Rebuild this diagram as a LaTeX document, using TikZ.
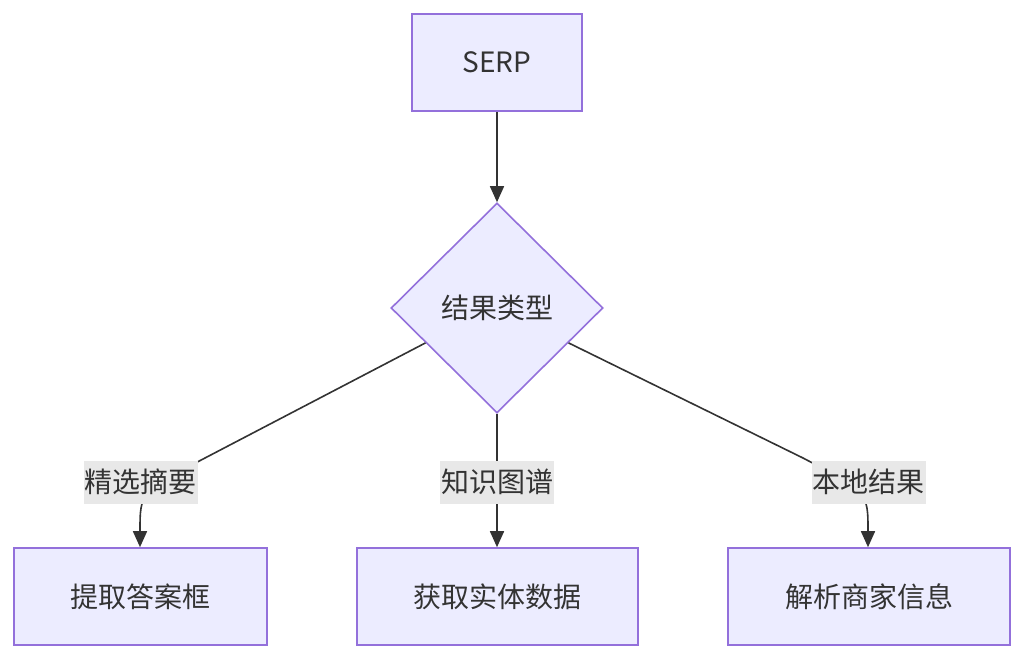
\documentclass[tikz,border=0pt]{standalone}
\usepackage{fontspec}
\setmainfont{Noto Sans CJK SC}
\usetikzlibrary{shapes.geometric,arrows.meta,calc}
\definecolor{nodefill}{HTML}{ECECFF}
\definecolor{nodeline}{HTML}{9370DB}
\definecolor{txt}{HTML}{333333}
\definecolor{edgebg}{HTML}{E8E8E8}
\begin{document}
\begin{tikzpicture}[x=1pt,y=-1pt,
  every node/.style={font=\fontsize{28}{34}\selectfont, text=txt},
  box/.style={draw=nodeline, fill=nodefill, line width=1.6pt, minimum height=97pt, inner sep=0pt},
  decision/.style={draw=nodeline, fill=nodefill, line width=1.6pt, shape=diamond, minimum width=212pt, minimum height=210pt, inner sep=0pt},
  elabel/.style={fill=edgebg, inner xsep=1pt, inner ysep=0pt, minimum height=43pt},
  conn/.style={draw=txt, line width=1.6pt, -{Triangle[length=16pt,width=14pt]}}]
\useasboundingbox (0,0) rectangle (1024,660);
\node[box, minimum width=170pt] (serp) at (497,62.5) {SERP};
\node[decision] (type) at (497,308) {结果类型};
\node[box, minimum width=253pt] (b1) at (140.5,596.5) {提取答案框};
\node[box, minimum width=281pt] (b2) at (497.5,596.5) {获取实体数据};
\node[box, minimum width=282pt] (b3) at (869,596.5) {解析商家信息};
\coordinate (s1) at ($(type.west)!0.33!(type.south)$);
\coordinate (s3) at ($(type.east)!0.33!(type.south)$);
\coordinate (m1) at (205,458);
\coordinate (m3) at (803,458);
\coordinate (c1) at (140,492);
\coordinate (c3) at (868,492);
\draw[conn] (serp.south) -- (type.north);
\draw[conn] (s1) -- (m1) .. controls (c1) .. (b1.north -| c1);
\draw[conn] (type.south) -- (b2.north -| type.south);
\draw[conn] (s3) -- (m3) .. controls (c3) .. (b3.north -| c3);
\node[elabel] (l1) at (140.5,482) {精选摘要};
\node[elabel] (l2) at (497,482) {知识图谱};
\node[elabel] (l3) at (868.5,482) {本地结果};
\end{tikzpicture}
\end{document}
